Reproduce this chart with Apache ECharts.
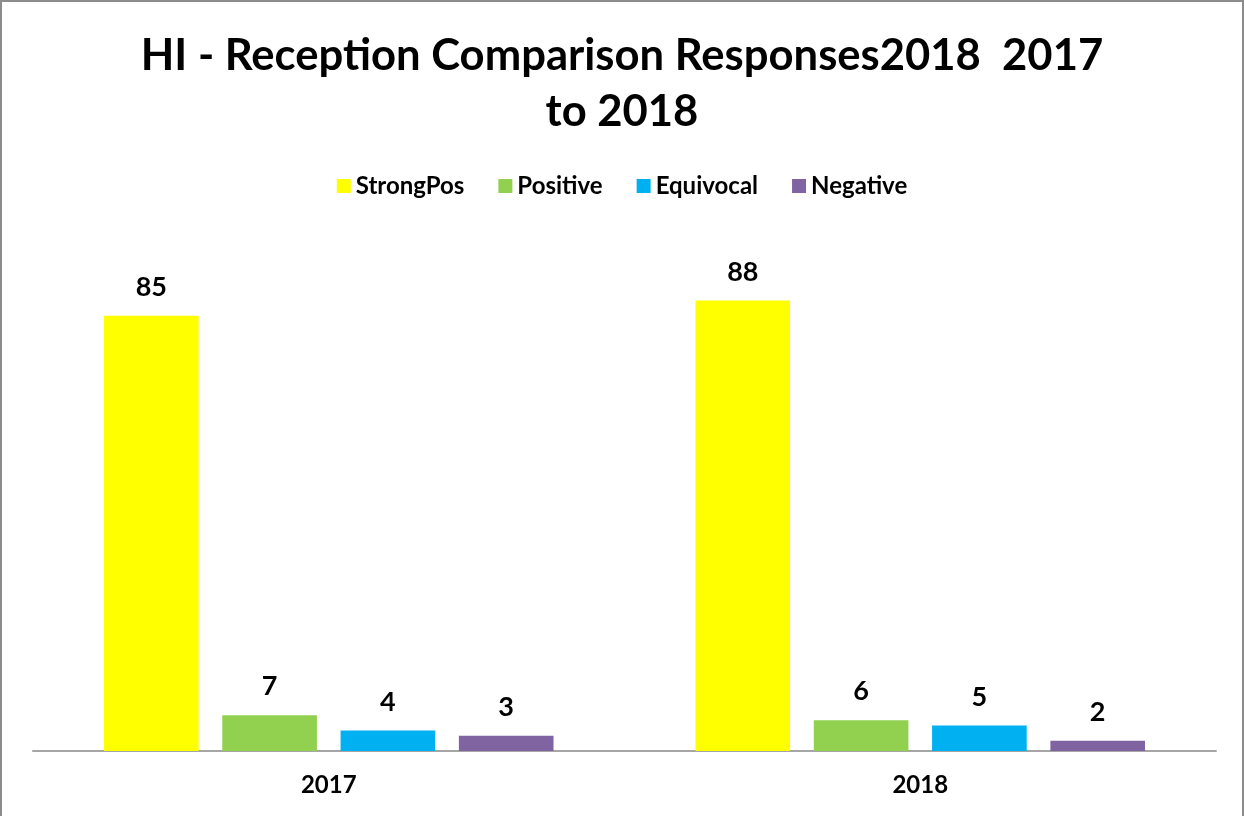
<!DOCTYPE html>
<html><head><meta charset="utf-8">
<script src="https://cdn.jsdelivr.net/npm/echarts@6/dist/echarts.min.js"></script>
<style>html,body{margin:0;padding:0;background:#fff}#c{width:1244px;height:816px;box-sizing:border-box;border:2px solid #8c8c8c;border-bottom:none}</style>
</head><body><div id="c"></div>
<script>
const categories = ['2017', '2018'];
const seriesNames = ['StrongPos', 'Positive', 'Equivocal', 'Negative'];
const strongPos = [85, 88];
const positive = [7, 6];
const equivocal = [4, 5];
const negative = [3, 2];
const colors = ['#FFFF00', '#92D050', '#00B0F0', '#8064A2'];
const values = [strongPos, positive, equivocal, negative];

const chart = echarts.init(document.getElementById('c'));
const font = 'Lato, "Noto Sans", sans-serif';
chart.setOption({
  animation: false,
  title: {
    text: 'HI - Reception Comparison Responses2018  2017\nto 2018',
    left: 'center', top: 21,
    textStyle: { fontFamily: font, fontWeight: 'bold', fontSize: 43.6, color: '#000', lineHeight: 56 }
  },
  legend: {
    top: 167, left: 'center', itemWidth: 14, itemHeight: 14, itemGap: 34,
    icon: 'rect',
    textStyle: { fontFamily: font, fontWeight: 'bold', fontSize: 24, color: '#000' },
    data: seriesNames
  },
  grid: { left: 31, right: 26, top: 237, bottom: 65 },
  xAxis: {
    type: 'category', data: categories,
    axisLine: { lineStyle: { color: '#a6a6a6', width: 2 } },
    axisTick: { show: false },
    axisLabel: { fontFamily: font, fontWeight: 'bold', fontSize: 24, color: '#000', margin: 22 }
  },
  yAxis: { type: 'value', min: 0, max: 100, show: false, splitLine: { show: false } },
  series: seriesNames.map((n, i) => ({
    name: n, type: 'bar', data: values[i],
    barGap: '25%', barCategoryGap: '24%',
    itemStyle: { color: colors[i] },
    label: { show: true, position: 'top', distance: 15, fontFamily: font, fontWeight: 'bold', fontSize: 27, color: '#000' }
  }))
});
</script></body></html>
